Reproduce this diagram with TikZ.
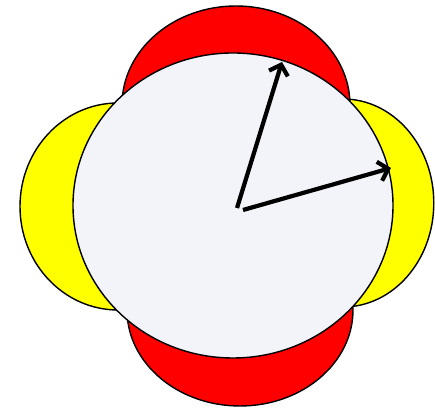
\documentclass[tikz,border=0pt]{standalone}
\usetikzlibrary{arrows.meta}
\definecolor{discfill}{HTML}{F3F4FA}
\definecolor{lobeyel}{HTML}{FFFF00}
\begin{document}
\begin{tikzpicture}[>={Straight Barb[length=6.5pt,width=14pt]}]

% --- Styles ---
\tikzset{
    lobeRed/.style={fill=red, draw=black, line width=1pt},
    lobeYellow/.style={fill=lobeyel, draw=black, line width=1pt},
    disc/.style={fill=discfill, draw=black, line width=1pt},
    vec/.style={->, draw=black, line width=3pt}
}

\useasboundingbox (0,0) rectangle (10.875,10.225);

% --- Gele lobben (links en rechts) ---
\path[lobeYellow] (2.95, 5.0625) ellipse (2.45cm and 2.5875cm);
\path[lobeYellow] (8.575, 5.15) ellipse (2.27cm and 2.6cm);

% --- Rode lobben (boven en onder) ---
\path[lobeRed] (5.9, 7.6) ellipse (2.85cm and 2.475cm);
\path[lobeRed] (6.0, 2.475) ellipse (2.825cm and 2.4cm);

% --- Centrale schijf ---
\path[disc] (5.825, 5.0875) ellipse (4.0cm and 3.8125cm);

% Begin- en eindpunten van de vectoren
\coordinate (o1) at (5.925, 5.025);
\coordinate (o2) at (6.075, 4.975);
\coordinate (tip1) at (7.05, 8.675);
\coordinate (tip2) at (9.775, 6.025);

% --- Vectoren ---
\draw[vec] (o1) -- (tip1);
\draw[vec] (o2) -- (tip2);

\end{tikzpicture}
\end{document}
